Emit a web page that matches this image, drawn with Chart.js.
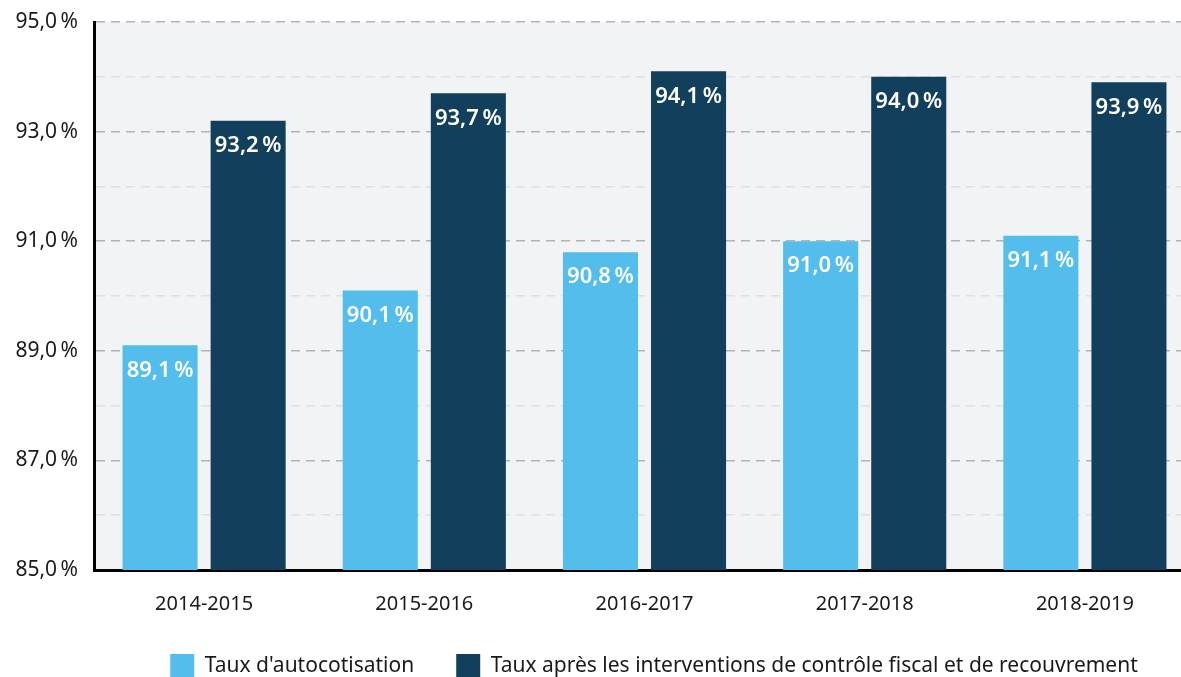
<!DOCTYPE html>
<html>
<head>
<meta charset="utf-8">
<script src="https://cdn.jsdelivr.net/npm/chart.js@4/dist/chart.umd.min.js"></script>
<style>
  html, body { margin: 0; padding: 0; background: #fff; overflow: hidden; }
  #wrap { width: 1195px; height: 677px; }
</style>
</head>
<body>
<div id="wrap"><canvas id="chart" width="1195" height="677"></canvas></div>
<script>
// data
var periods = ['2014-2015', '2015-2016', '2016-2017', '2017-2018', '2018-2019'];
var autoRate = [89.1, 90.1, 90.8, 91.0, 91.1];
var afterControlRate = [93.2, 93.7, 94.1, 94.0, 93.9];
var seriesNames = ["Taux d'autocotisation", 'Taux après les interventions de contrôle fiscal et de recouvrement'];
var yMin = 85, yMax = 95;

var FONT = "'Noto Sans', 'Open Sans', sans-serif";

function frPct(v) {
    return v.toFixed(1).replace('.', ',') + '\u202f%';
}

// grey plot background
var plotBg = {
    id: 'plotBg',
    beforeDraw: function(chart) {
        var a = chart.chartArea, c = chart.ctx;
        c.save();
        c.fillStyle = '#f2f3f5';
        c.fillRect(a.left, a.top, a.right - a.left, a.bottom - a.top);
        c.restore();
    }
};

// values written inside the top of each bar
var barLabels = {
    id: 'barLabels',
    afterDatasetsDraw: function(chart) {
        var c = chart.ctx;
        c.save();
        c.fillStyle = '#ffffff';
        c.font = "600 22px " + FONT;
        c.textAlign = 'center';
        c.textBaseline = 'middle';
        chart.data.datasets.forEach(function(ds, di) {
            chart.getDatasetMeta(di).data.forEach(function(bar, i) {
                c.fillText(frPct(ds.data[i]), bar.x, bar.y + 25);
            });
        });
        c.restore();
    }
};

// legend in the reference sits further right / lower than chart.js puts it
var legendShift = {
    id: 'legendShift',
    afterLayout: function(chart) {
        var lg = chart.legend;
        var dx = 654 - (lg.left + lg.right) / 2;
        lg.left += dx;
        lg.right += dx;
        var dy = 688 - lg.bottom;
        lg.top += dy;
        lg.bottom += dy;
    }
};

var ctx = document.getElementById('chart').getContext('2d');
new Chart(ctx, {
    type: 'bar',
    data: {
        labels: periods,
        datasets: [{
            label: seriesNames[0],
            data: autoRate,
            backgroundColor: '#53bdeb'
        }, {
            label: seriesNames[1],
            data: afterControlRate,
            backgroundColor: '#12405c'
        }]
    },
    options: {
        responsive: false,
        animation: false,
        categoryPercentage: 0.8,
        barPercentage: 0.852,
        layout: { padding: { top: 22, right: 0, bottom: -29, left: 0 } },
        plugins: {
            tooltip: { enabled: false },
            legend: {
                position: 'bottom',
                labels: {
                    font: { family: FONT, size: 21 },
                    color: '#1a1a1a',
                    boxWidth: 24,
                    boxHeight: 24,
                    padding: 42
                }
            }
        },
        scales: {
            x: {
                grid: { display: false },
                border: { color: '#000', width: 3 },
                ticks: {
                    font: { family: FONT, size: 20 },
                    color: '#1a1a1a',
                    padding: 14
                }
            },
            y: {
                min: yMin,
                max: yMax,
                afterFit: function(s) {
                    s.width = 94;
                    s.paddingTop = 0;
                },
                border: { color: '#000', width: 3, dash: [9, 6] },
                grid: {
                    drawTicks: false,
                    lineWidth: 1.5,
                    color: function(c) {
                        return (c.tick && c.tick.value % 2 === 1) ? '#b1b3b6' : '#dfe0e3';
                    }
                },
                ticks: {
                    stepSize: 1,
                    padding: 16,
                    font: { family: FONT, size: 21 },
                    color: '#1a1a1a',
                    callback: function(v) {
                        return (v % 2 === 1) ? frPct(v) : '';
                    }
                }
            }
        }
    },
    plugins: [plotBg, barLabels, legendShift]
});
</script>
</body>
</html>
